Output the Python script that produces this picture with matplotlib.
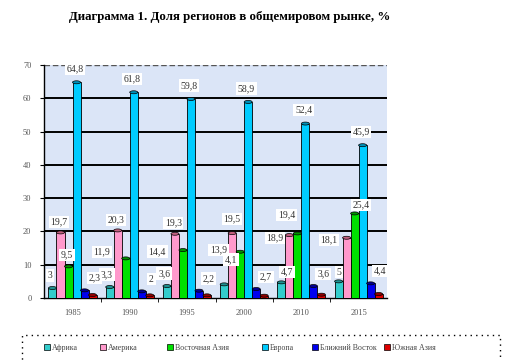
import numpy as np
import matplotlib
matplotlib.use('Agg')
import matplotlib.pyplot as plt
from matplotlib.patches import Ellipse, Rectangle

years = ['1985', '1990', '1995', '2000', '2010', '2015']
regions = ['Африка', 'Америка', 'Восточная Азия', 'Европа', 'Ближний Восток', 'Южная Азия']
africa = [3, 3.3, 3.6, 4.1, 4.7, 5]
america = [19.7, 20.3, 19.3, 19.5, 18.9, 18.1]
east_asia = [9.5, 11.9, 14.4, 13.9, 19.4, 25.4]
europe = [64.8, 61.8, 59.8, 58.9, 52.4, 45.9]
middle_east = [2.3, 2, 2.2, 2.7, 3.6, 4.4]
south_asia = [0.9, 0.8, 0.8, 0.7, 1.0, 1.2]  # no labels on the chart

series = [africa, america, east_asia, europe, middle_east, south_asia]
colors = ['#33cccc', '#ff99cc', '#00e000', '#00ccff', '#0000ee', '#dd0000']
tops = ['#1f8f8f', '#c0607f', '#009000', '#0090b8', '#000090', '#900000']
labelled = [True, True, True, True, True, False]

# label placement (x shift in group units, y shift in %), per series
label_dx = [-0.05, -0.03, -0.03, -0.03, 0.17, 0]
label_dy = [3.8, 3.2, 3.4, 4.0, 3.7, 0]
# labels that sit beside their bar in the original: (series, year) -> (dx, dy)
label_nudge = {(2, 1): (-0.42, 1.9), (2, 2): (-0.45, -0.4), (2, 3): (-0.38, 0.5),
               (0, 3): (0.12, 7.5), (1, 3): (0.0, 4.2),
               (0, 4): (0.1, 3.1), (1, 4): (-0.25, -0.9), (2, 4): (-0.19, 5.6),
               (0, 5): (0.0, 2.8), (1, 5): (-0.31, -0.7), (2, 5): (0.11, 2.5)}

plt.rcParams['font.family'] = ['Liberation Serif', 'DejaVu Serif']

fig = plt.figure(figsize=(5.29, 3.61), dpi=100)
ax = fig.add_axes([0.083, 0.1745, 0.649, 0.6455])
ax.set_facecolor('#dbe5f7')

w = 0.14
x = np.arange(len(years))
for j, vals in enumerate(series):
    xs = x + (j - 2.5) * w
    ax.bar(xs, vals, width=w, color=colors[j], edgecolor='black', linewidth=0.6, zorder=3)
    for i, (xi, v) in enumerate(zip(xs, vals)):
        ax.add_patch(Ellipse((xi, v), w, 0.9, facecolor=tops[j], edgecolor='black',
                             linewidth=0.5, zorder=4))
        if labelled[j]:
            dx, dy = label_nudge.get((j, i), (label_dx[j], label_dy[j]))
            ax.text(xi + dx, v + dy, f'{v:g}'.replace('.', ','), ha='center', va='center',
                    fontsize=7, color='#333333', zorder=5,
                    bbox=dict(facecolor='white', edgecolor='none', pad=1.2))

ax.set_xlim(-0.5, 5.5)
ax.set_ylim(0, 70)
ax.set_yticks(range(0, 71, 10))
ax.set_yticklabels([str(t) for t in range(0, 71, 10)], fontsize=6, color='#555555')
for t in range(10, 70, 10):
    ax.axhline(t, color='black', linewidth=1.4, zorder=1)
ax.axhline(70, color='#555555', linewidth=1.0, linestyle=(0, (4, 2)), zorder=1)

ax.set_xticks(x)
ax.set_xticklabels(years, fontsize=6, color='#555555')
ax.tick_params(axis='x', length=0, pad=8)
ax.set_xticks(np.arange(0.5, 5.5, 1), minor=True)
ax.tick_params(axis='x', which='minor', length=3, direction='out')
ax.tick_params(axis='y', length=3, direction='out', pad=6)
for s in ['top', 'right']:
    ax.spines[s].set_visible(False)
ax.spines['left'].set_linewidth(1.0)
ax.spines['bottom'].set_linewidth(1.0)

fig.text(0.435, 0.953, 'Диаграмма 1. Доля регионов в общемировом рынке, %',
         ha='center', va='center', fontsize=9.3, fontweight='bold')

# legend box (dotted, runs off the bottom edge)
fig.patches.append(Rectangle((0.042, -0.05), 0.903, 0.122, transform=fig.transFigure,
                             fill=False, edgecolor='black', linewidth=1.0,
                             linestyle=(0, (1, 3))))
leg_x = [47, 103, 170, 265, 315, 387]
for lx, name, c in zip(leg_x, regions, colors):
    fig.patches.append(Rectangle((lx / 529 - 0.006, 1 - 350 / 361), 0.011, 0.016,
                                 transform=fig.transFigure, facecolor=c,
                                 edgecolor='black', linewidth=0.5))
    fig.text(lx / 529 + 0.009, 1 - 347.5 / 361, name, ha='left', va='center',
             fontsize=5.7, color='#444444')

fig.savefig('out.png', dpi=100)
